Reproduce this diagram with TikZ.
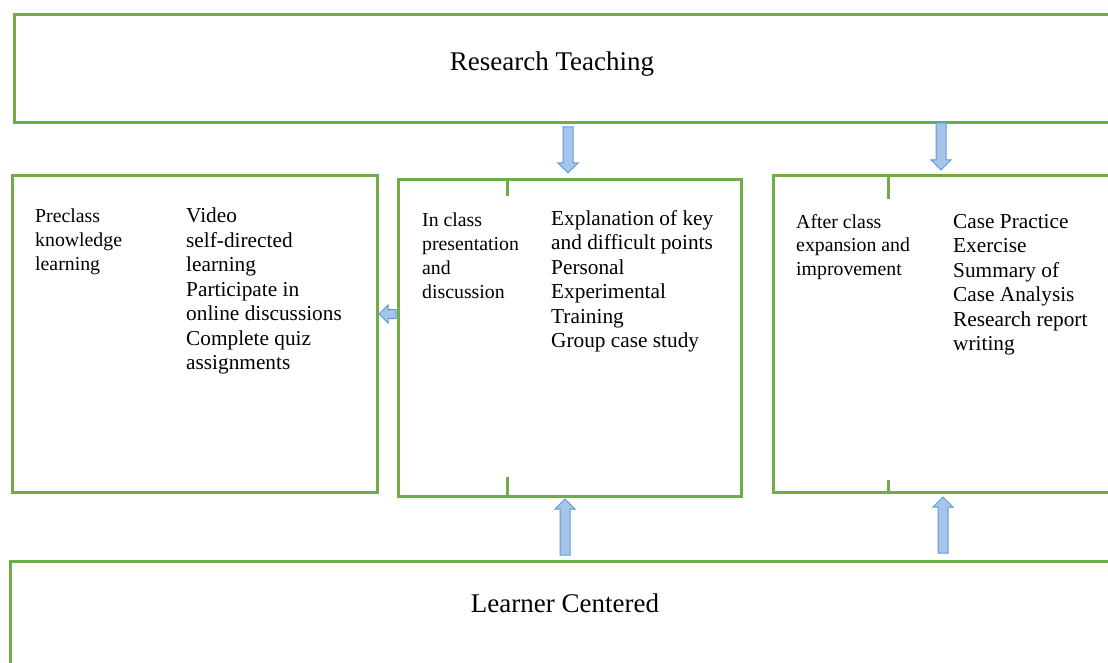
\documentclass[tikz,border=0pt]{standalone}
\usepackage{fontspec}
\setmainfont{Liberation Serif}
\definecolor{boxgreen}{HTML}{70AD47}
\definecolor{arrowblue}{HTML}{5B9BD5}
\definecolor{arrowfill}{HTML}{A7C4EA}
\tikzset{
  box/.style={draw=boxgreen, line width=3pt, rectangle, inner sep=0pt, anchor=north west},
  tickline/.style={draw=boxgreen, line width=3pt},
  barrow/.style={draw=arrowblue, fill=arrowfill, line width=1pt, line join=miter},
  title/.style={inner sep=0pt, anchor=base, font=\fontsize{27}{30}\selectfont},
  lefttext/.style={inner sep=0pt, anchor=north west, align=left, font=\fontsize{19.8}{23.8}\selectfont},
  righttext/.style={inner sep=0pt, anchor=north west, align=left, font=\fontsize{21.3}{24.5}\selectfont}
}
% vertical block arrow: x, tail y, tip y, direction (+1 down, -1 up)
\newcommand\VBlockArrow[4]{%
  \draw[barrow] ({#1-5},#2) -- ({#1-5},{#3-#4*10}) -- ({#1-10},{#3-#4*10}) -- (#1,#3)
    -- ({#1+10},{#3-#4*10}) -- ({#1+5},{#3-#4*10}) -- ({#1+5},#2) -- cycle;}
\begin{document}
\begin{tikzpicture}[x=1pt,y=-1pt]
\useasboundingbox (0,0) rectangle (1108,663);
\clip (0,0) rectangle (1108,663);
\fill[white] (0,0) rectangle (1108,663);
% boxes
\node[box, minimum width=1120pt, minimum height=108pt] (top) at (13,13) {};
\node[box, minimum width=365pt, minimum height=317pt] (pre) at (11,174) {};
\node[box, minimum width=343pt, minimum height=317pt] (in) at (397,178) {};
\node[box, minimum width=360pt, minimum height=317pt] (after) at (772,174) {};
\node[box, minimum width=1120pt, minimum height=120pt] (bottom) at (9,560) {};
% ticks
\draw[tickline] (507,178) -- (507,196);
\draw[tickline] (507,477) -- (507,495);
\draw[tickline] (888,174) -- (888,199);
\draw[tickline] (888,480) -- (888,491);
% titles
\node[title] (rt) at (552,71) {Research Teaching};
\node[title] (lc) at (565,612) {Learner Centered};
% texts
\node[lefttext] (pre1) at (35,209) {Preclass\\knowledge\\learning};
\node[righttext] (pre2) at (186,208) {Video\\self-directed\\learning\\Participate in\\online discussions\\Complete quiz\\assignments};
\node[lefttext] (in1) at (422,213) {In class\\presentation\\and\\discussion};
\node[righttext] (in2) at (551,210) {Explanation of key\\and difficult points\\Personal\\Experimental\\Training\\Group case study};
\node[lefttext] (af1) at (796,214) {After class\\expansion and\\improvement};
\node[righttext] (af2) at (953,214) {Case Practice\\Exercise\\Summary of\\Case Analysis\\Research report\\writing};
% arrows
\VBlockArrow{568}{127}{173}{1}
\VBlockArrow{941}{123}{170}{1}
\VBlockArrow{565}{555}{499}{-1}
\VBlockArrow{943}{553}{497}{-1}
\draw[barrow] (396,309.5) -- (388,309.5) -- (388,305) -- (379,314) -- (388,323) -- (388,318.5) -- (396,318.5) -- cycle;
\end{tikzpicture}
\end{document}
